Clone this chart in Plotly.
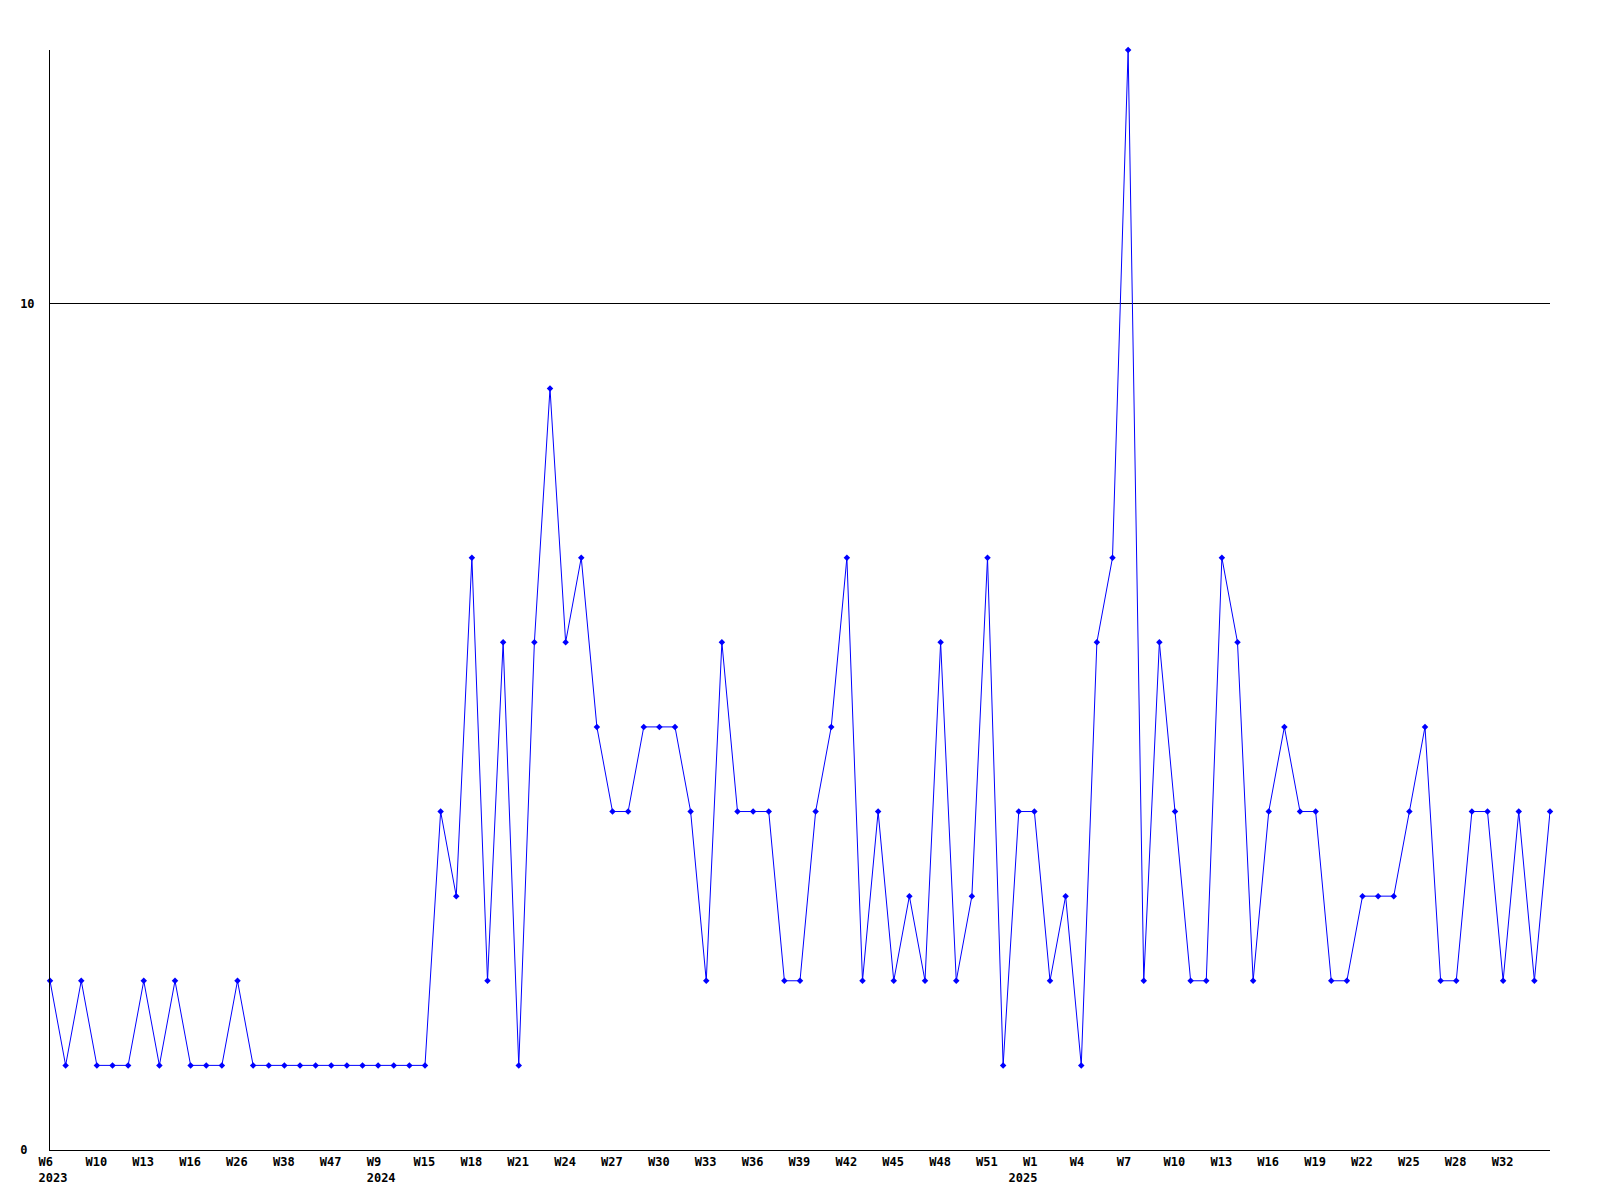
import plotly.graph_objects as go

NB = "\u00a0"

# Series values, one per week (97 points)
values = [
    2, 1, 2, 1, 1, 1, 2, 1, 2, 1, 1, 1, 2, 1, 1, 1, 1, 1, 1, 1, 1, 1, 1, 1, 1,
    4, 3, 7, 2, 6, 1, 6, 9, 6, 7, 5, 4, 4, 5, 5, 5, 4, 2, 6, 4, 4, 4, 2, 2, 4,
    5, 7, 2, 4, 2, 3, 2, 6, 2, 3, 7, 1, 4, 4, 2, 3, 1, 6, 7, 13, 2, 6, 4, 2, 2,
    7, 6, 2, 4, 5, 4, 4, 2, 2, 3, 3, 3, 4, 5, 2, 2, 4, 4, 2, 4, 2, 4,
]

# Tick labels (every third point)
week_labels = [
    "W6", "W10", "W13", "W16", "W26", "W38", "W47", "W9", "W15", "W18", "W21",
    "W24", "W27", "W30", "W33", "W36", "W39", "W42", "W45", "W48", "W51", "W1",
    "W4", "W7", "W10", "W13", "W16", "W19", "W22", "W25", "W28", "W32",
]
year_labels = {0: "2023", 7: "2024", 21: "2025"}
tick_step = 3

y_ticks = [0, 10]
y_tick_labels = ["0", "10"]

x = list(range(len(values)))
tickvals = [i * tick_step for i in range(len(week_labels))]
ticktext = []
for k, w in enumerate(week_labels):
    line1 = w + NB * (4 - len(w))
    if k in year_labels:
        yr = year_labels[k]
        # the year under a 2-char week label is right-aligned with it
        pad = 4 if len(w) == 2 and k > 0 and k != 7 else 0
        ticktext.append(line1 + "<br>" + yr + NB * pad)
    else:
        ticktext.append(line1)

fig = go.Figure()
fig.add_trace(go.Scatter(
    x=x, y=values, mode="lines+markers",
    line=dict(color="#0000ff", width=1),
    marker=dict(symbol="diamond", size=5, color="#0000ff"),
    cliponaxis=False,
))

font = dict(family="DejaVu Sans Mono", size=12, color="black", weight="bold")

# page body has an 8px default margin: compensate so the plot area sits at 50..1550 x 50..1150
fig.update_layout(
    width=1584, height=1184,
    margin=dict(l=42, r=42, t=42, b=42, autoexpand=False),
    paper_bgcolor="white", plot_bgcolor="white",
    showlegend=False,
    font=font,
    xaxis=dict(
        range=[0, len(values) - 1],
        tickmode="array", tickvals=tickvals, ticktext=ticktext,
        tickfont=font, showgrid=False, zeroline=False,
        showline=True, linecolor="black", linewidth=1,
        ticks="", ticklabelshift=3, ticklabelstandoff=1,
        automargin=False, fixedrange=True,
    ),
    yaxis=dict(
        range=[0, 13],
        tickmode="array", tickvals=y_ticks,
        ticktext=[t + NB * (2 - len(t)) for t in y_tick_labels],
        tickfont=font, showgrid=True, gridcolor="black", gridwidth=1,
        zeroline=False, showline=True, linecolor="black", linewidth=1,
        ticks="", ticklabelstandoff=12,
        automargin=False, fixedrange=True,
    ),
)

fig.write_html("out.html")
